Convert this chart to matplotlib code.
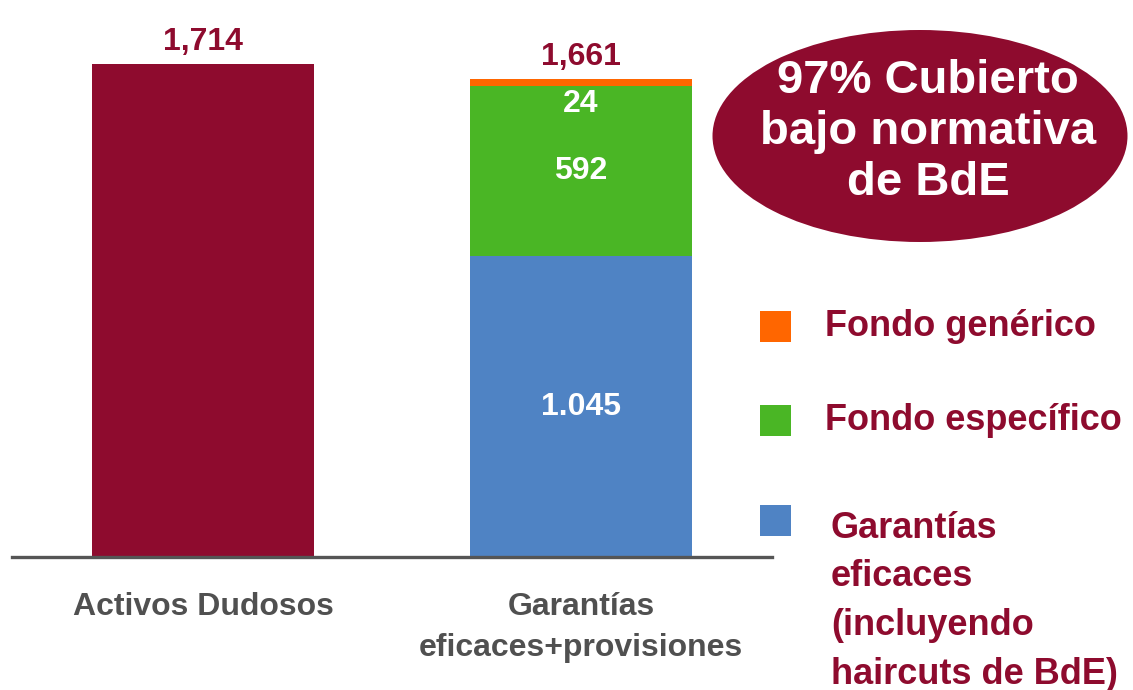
import matplotlib.pyplot as plt
from matplotlib.patches import Ellipse, Rectangle

plt.rcParams['font.family'] = ['Liberation Sans', 'DejaVu Sans']
plt.rcParams['font.weight'] = 'bold'

# data
categories = ['Activos Dudosos', 'Garantías\neficaces+provisiones']
activos_dudosos = [1714, 0]
garantias = [0, 1045]
fondo_especifico = [0, 592]
fondo_generico = [0, 24]
total_labels = ['1,714', '1,661']
segment_labels = ['1.045', '592', '24']
legend_labels = ['Fondo genérico', 'Fondo específico',
                 'Garantías\neficaces\n(incluyendo\nhaircuts de BdE)']
callout_text = '97% Cubierto\nbajo normativa\nde BdE'

CRIMSON = '#8E0B2E'
ORANGE = '#FF6600'
GREEN = '#4AB625'
BLUE = '#4F83C4'
GREY = '#505050'

W, H = 1133, 690
fig = plt.figure(figsize=(W / 100, H / 100), dpi=100)
ax = fig.add_axes([12 / W, 133 / H, 760 / W, 493 / H])

x = [0, 1]
bw = 0.587
ax.bar(x[0], activos_dudosos[0], width=bw, color=CRIMSON)
ax.bar(x[1], garantias[1], width=bw, color=BLUE)
ax.bar(x[1], fondo_especifico[1], bottom=garantias[1], width=bw, color=GREEN)
ax.bar(x[1], fondo_generico[1], bottom=garantias[1] + fondo_especifico[1],
       width=bw, color=ORANGE)

ax.set_xlim(-0.505, 1.505)
ax.set_ylim(0, 1714)

# totals above bars
totals = [activos_dudosos[0], garantias[1] + fondo_especifico[1] + fondo_generico[1]]
for xi, t, lab in zip(x, totals, total_labels):
    ax.annotate(lab, (xi, t), xytext=(0, 5), textcoords='offset points',
                ha='center', va='bottom', fontsize=23, color=CRIMSON,
                fontweight='bold', annotation_clip=False)

# segment labels
ax.text(x[1], garantias[1] / 2, segment_labels[0], ha='center', va='center',
        fontsize=23, color='white', fontweight='bold')
ax.text(x[1], garantias[1] + fondo_especifico[1] / 2, segment_labels[1],
        ha='center', va='center', fontsize=23, color='white', fontweight='bold')
ax.annotate(segment_labels[2], (x[1], garantias[1] + fondo_especifico[1]),
            xytext=(0, -2), textcoords='offset points', ha='center', va='top',
            fontsize=23, color='white', fontweight='bold')

for s in ['top', 'right', 'left']:
    ax.spines[s].set_visible(False)
ax.spines['bottom'].set_color('#555555')
ax.spines['bottom'].set_linewidth(2.4)
ax.set_yticks([])
ax.set_xticks(x)
ax.set_xticklabels(categories, fontsize=23, color=GREY, fontweight='bold',
                   linespacing=1.5)
ax.tick_params(axis='x', length=0, pad=25)

# callout ellipse
ell = Ellipse((920 / W, 1 - 136 / H), 415 / W, 212 / H, transform=fig.transFigure,
              facecolor=CRIMSON, edgecolor='none')
fig.patches.append(ell)
fig.text(928 / W, 1 - 132 / H, callout_text, ha='center', va='center',
         fontsize=34, color='white', fontweight='bold', linespacing=1.22)

# legend
leg_colors = [ORANGE, GREEN, BLUE]
sq_tops = [311, 405, 505]
for c, top, lab in zip(leg_colors, sq_tops, legend_labels):
    fig.patches.append(Rectangle((760 / W, 1 - (top + 31) / H), 31 / W, 31 / H,
                                 transform=fig.transFigure, facecolor=c,
                                 edgecolor='none'))
    if '\n' in lab:
        fig.text(831 / W, 1 - 511 / H, lab, ha='left', va='top', fontsize=26,
                 color=CRIMSON, fontweight='bold', linespacing=1.5)
    else:
        fig.text(825 / W, 1 - (top + 15) / H, lab, ha='left', va='center',
                 fontsize=26, color=CRIMSON, fontweight='bold')

fig.savefig('out.png', dpi=100)
